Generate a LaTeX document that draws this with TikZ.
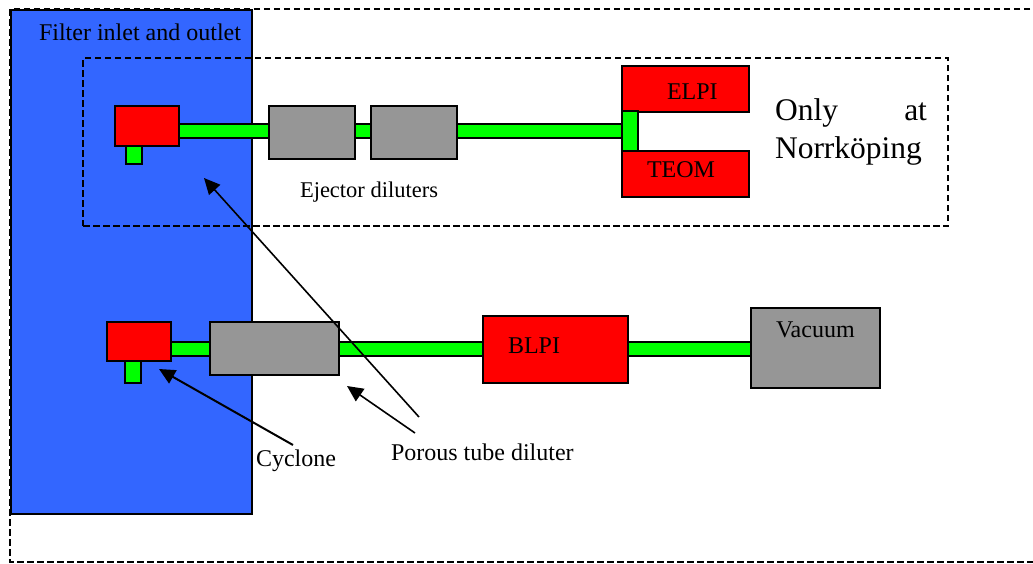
\documentclass[tikz,border=0pt]{standalone}
\usepackage{fontspec}
\setmainfont{Liberation Serif}
\usetikzlibrary{arrows.meta}
\definecolor{blockred}{HTML}{FF0000}
\definecolor{pipegreen}{HTML}{00FF00}
\definecolor{unitgrey}{HTML}{969696}
\definecolor{filterblue}{HTML}{3366FF}
\newcommand{\rbox}[6]{\node[#2,minimum width={(#5-#3)*1pt},minimum height={(#6-#4)*1pt}] (#1) at ({(#3+#5)/2},{(#4+#6)/2}) {};}
\tikzset{
  x=1pt,y=-1pt,
  boxbase/.style={draw=black,line width=1.4pt,inner sep=0pt,outer sep=0pt,rectangle},
  redbox/.style={boxbase,fill=blockred},
  greybox/.style={boxbase,fill=unitgrey},
  pipe/.style={boxbase,fill=pipegreen},
  filterbox/.style={boxbase,fill=filterblue},
  frame/.style={draw=black,line width=1.1pt,dash pattern=on 6.5pt off 3.5pt},
  pointer/.style={draw=black,line width=1.6pt,-{Triangle[length=16pt,width=15pt]}},
  lab/.style={anchor=base west,inner sep=0pt,outer sep=0pt,font=\fontsize{24}{24}\selectfont}
}
\begin{document}
\begin{tikzpicture}
\useasboundingbox (0,0) rectangle (1033,563);
\fill[white] (0,0) rectangle (1033,563);
\coordinate (ot) at (1040,9);
\coordinate (otl) at (10,9);
\coordinate (obl) at (10,562);
\coordinate (ob) at (1040,562);
\draw[frame] (ot) -- (otl) -- (obl) -- (ob);
\rbox{filter}{filterbox}{11}{10}{252}{514}
\node[frame,draw,inner sep=0pt,outer sep=0pt,minimum width=865pt,minimum height=168pt] (only) at (515.5,142) {};
% upper line
\rbox{p1}{pipe}{179}{124}{269}{138}
\rbox{p2}{pipe}{355}{124}{371}{138}
\rbox{p3}{pipe}{457}{124}{622}{138}
\rbox{cyc1}{redbox}{115}{106}{179}{146}
\rbox{cyc1o}{pipe}{126}{146}{142}{164}
\rbox{ej1}{greybox}{269}{106}{355}{159}
\rbox{ej2}{greybox}{371}{106}{457}{159}
\rbox{elpi}{redbox}{622}{66}{749}{112}
\rbox{teom}{redbox}{622}{151}{749}{197}
\rbox{split}{pipe}{622}{111}{638}{151}
% lower line
\rbox{p4}{pipe}{171}{342}{210}{356}
\rbox{p5}{pipe}{339}{342}{483}{356}
\rbox{p6}{pipe}{628}{342}{751}{356}
\rbox{cyc2}{redbox}{107}{322}{171}{361}
\rbox{cyc2o}{pipe}{125}{361}{141}{383}
\rbox{ptd}{greybox}{210}{322}{339}{375}
\rbox{blpi}{redbox}{483}{316}{628}{383}
\rbox{vac}{greybox}{751}{308}{880}{388}
% labels
\node[lab] (tfilter) at (39,40) {Filter inlet and outlet};
\node[lab,font=\fontsize{22.5}{22.5}\selectfont] (tej) at (300,197) {Ejector diluters};
\node[lab] (telpi) at (667,99) {ELPI};
\node[lab] (tteom) at (647,177) {TEOM};
\node[lab] (tblpi) at (508,353) {BLPI};
\node[lab] (tvac) at (776,337) {Vacuum};
\node[lab] (tcyc) at (256,466) {Cyclone};
\node[lab] (tpor) at (391,460) {Porous tube diluter};
\node[lab,font=\fontsize{31.5}{38}\selectfont,text width=152pt,align=left] (tonly) at (775,120) {Only\hfill at\\Norrköping};
% pointers
\coordinate (c1s) at (293,445);
\coordinate (c1e) at (159,369);
\coordinate (p1s) at (415,433);
\coordinate (p1e) at (347,386);
\coordinate (p2s) at (419,417);
\coordinate (p2e) at (204,178);
\draw[pointer,line width=2pt] (c1s) -- (c1e);
\draw[pointer] (p1s) -- (p1e);
\draw[pointer] (p2s) -- (p2e);
\end{tikzpicture}
\end{document}
